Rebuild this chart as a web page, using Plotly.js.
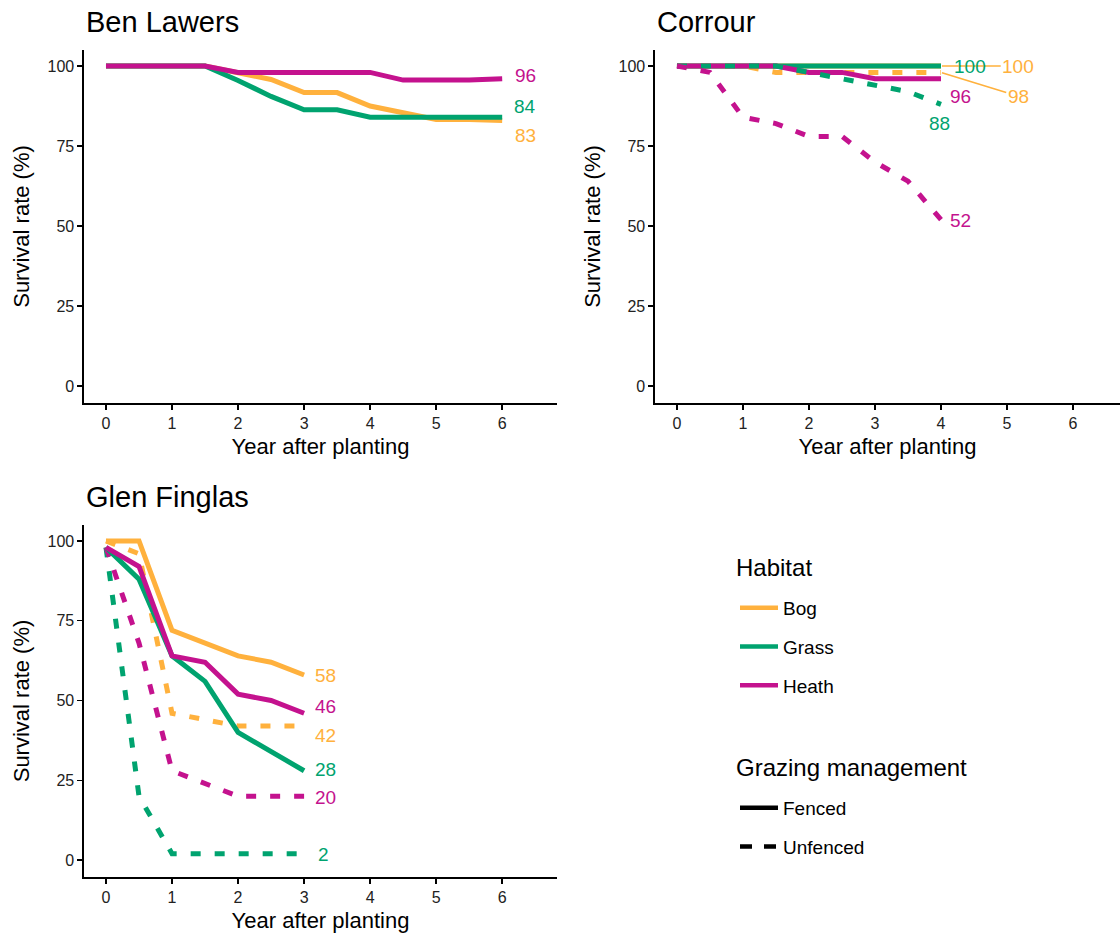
<!DOCTYPE html>
<html>
<head>
<meta charset="utf-8">
<script src="https://cdn.plot.ly/plotly-3.0.1.min.js"></script>
<style>html,body{margin:0;padding:0;background:#fff;}#chart{width:1120px;height:938px;}</style>
</head>
<body>
<div id="chart"></div>
<script>
// ---------------- DATA ----------------
const panels = ["Ben Lawers", "Corrour", "Glen Finglas"];
const habitats = ["Bog", "Grass", "Heath"];
const managements = ["Fenced", "Unfenced"];
const legendTitles = ["Habitat", "Grazing management"];
const xTicks = [0, 1, 2, 3, 4, 5, 6];
const yTicks = [0, 25, 50, 75, 100];

// Ben Lawers (fenced only)
const BL_years = [0, 0.5, 1, 1.5, 2, 2.5, 3, 3.5, 4, 4.5, 5, 5.5, 6];
const BL_bog_fenced   = [100, 100, 100, 100, 97.9, 95.8, 91.7, 91.7, 87.5, 85.4, 83.3, 83.3, 83];
const BL_grass_fenced = [100, 100, 100, 100, 95.5, 90.5, 86.3, 86.3, 84, 84, 84, 84, 84];
const BL_heath_fenced = [100, 100, 100, 100, 98, 98, 98, 98, 98, 95.6, 95.6, 95.6, 96];

// Corrour
const CO_years = [0, 0.5, 1, 1.5, 2, 2.5, 3, 3.5, 4];
const CO_bog_fenced     = [100, 100, 100, 100, 100, 100, 100, 100, 100];
const CO_bog_unfenced   = [100, 100, 100, 98, 98, 98, 98, 98, 98];
const CO_grass_fenced   = [100, 100, 100, 100, 100, 100, 100, 100, 100];
const CO_grass_unfenced = [100, 100, 100, 100, 98, 96, 94, 92, 88];
const CO_heath_fenced   = [100, 100, 100, 100, 98, 98, 96, 96, 96];
const CO_heath_unfenced = [100, 98, 84, 82, 78, 78, 70, 64, 52];

// Glen Finglas
const GF_years = [0, 0.5, 1, 1.5, 2, 2.5, 3];
const GF_bog_fenced     = [100, 100, 72, 68, 64, 62, 58];
const GF_bog_unfenced   = [100, 96, 46, 44, 42, 42, 42];
const GF_grass_fenced   = [98, 88, 64, 56, 40, 34, 28];
const GF_grass_unfenced = [98, 20, 2, 2, 2, 2, 2];
const GF_heath_fenced   = [98, 92, 64, 62, 52, 50, 46];
const GF_heath_unfenced = [98, 68, 28, 24, 20, 20, 20];

// ---------------- STYLE ----------------
const FONT = "Liberation Sans, Arial, Helvetica, sans-serif";
const colors = {Bog: "#FFB13D", Grass: "#00A36F", Heath: "#C4128E"};
const dashes = {Fenced: "solid", Unfenced: "10px,14px"};
const LW = 5;

// label offsets (data units, relative to the last point) and optional leader lines
const labelStyle = {
  "Ben Lawers": {
    Bog_Fenced:   {dx: 0.35, dy: -4.6},
    Grass_Fenced: {dx: 0.35, dy: 3.5},
    Heath_Fenced: {dx: 0.35, dy: 1}
  },
  "Corrour": {
    Bog_Fenced:     {dx: 1.17, dy: 0, leader: true},
    Grass_Fenced:   {dx: 0.44, dy: 0},
    Heath_Fenced:   {dx: 0.30, dy: -5.4},
    Bog_Unfenced:   {dx: 1.17, dy: -7.4, leader: true},
    Grass_Unfenced: {dx: -0.03, dy: -6.1},
    Heath_Unfenced: {dx: 0.30, dy: -0.4}
  },
  "Glen Finglas": {
    Bog_Fenced:     {dx: 0.33, dy: -0.2},
    Heath_Fenced:   {dx: 0.33, dy: 2},
    Bog_Unfenced:   {dx: 0.33, dy: -3},
    Grass_Fenced:   {dx: 0.33, dy: 0.4},
    Heath_Unfenced: {dx: 0.33, dy: -0.3},
    Grass_Unfenced: {dx: 0.30, dy: -0.4}
  }
};

// series per panel: [habitat, management, years, values] -- in drawing order
const panelSeries = {
  "Ben Lawers": [
    ["Bog", "Fenced", BL_years, BL_bog_fenced],
    ["Grass", "Fenced", BL_years, BL_grass_fenced],
    ["Heath", "Fenced", BL_years, BL_heath_fenced]
  ],
  "Corrour": [
    ["Bog", "Fenced", CO_years, CO_bog_fenced],
    ["Grass", "Fenced", CO_years, CO_grass_fenced],
    ["Bog", "Unfenced", CO_years, CO_bog_unfenced],
    ["Heath", "Fenced", CO_years, CO_heath_fenced],
    ["Grass", "Unfenced", CO_years, CO_grass_unfenced],
    ["Heath", "Unfenced", CO_years, CO_heath_unfenced]
  ],
  "Glen Finglas": [
    ["Grass", "Unfenced", GF_years, GF_grass_unfenced],
    ["Heath", "Unfenced", GF_years, GF_heath_unfenced],
    ["Bog", "Unfenced", GF_years, GF_bog_unfenced],
    ["Grass", "Fenced", GF_years, GF_grass_fenced],
    ["Heath", "Fenced", GF_years, GF_heath_fenced],
    ["Bog", "Fenced", GF_years, GF_bog_fenced]
  ]
};

const axisIds = {"Ben Lawers": ["x", "y"], "Corrour": ["x2", "y2"], "Glen Finglas": ["x3", "y3"]};

const traces = [];
const annotations = [];

panels.forEach(p => {
  const [xa, ya] = axisIds[p];
  panelSeries[p].forEach(([hab, man, xs, ys]) => {
    traces.push({
      type: "scatter", mode: "lines", x: xs, y: ys,
      xaxis: xa, yaxis: ya, showlegend: false, hoverinfo: "skip",
      line: {color: colors[hab], width: LW, dash: dashes[man]}
    });
    const st = labelStyle[p][hab + "_" + man];
    const lx = xs[xs.length - 1], ly = ys[ys.length - 1];
    const ann = {
      xref: xa, yref: ya, text: String(Math.round(ly)),
      font: {family: FONT, size: 19, color: colors[hab]},
      xanchor: "center", yanchor: "middle"
    };
    if (st.leader) {
      Object.assign(ann, {
        x: lx, y: ly, ax: lx + st.dx, ay: ly + st.dy, axref: xa, ayref: ya,
        showarrow: true, arrowhead: 0, arrowwidth: 1.6, arrowcolor: colors[hab], standoff: 1
      });
    } else {
      Object.assign(ann, {x: lx + st.dx, y: ly + st.dy, showarrow: false});
    }
    annotations.push(ann);
  });
});

// panel titles
const titlePos = {"Ben Lawers": [84 / 1120, 1 - 22 / 938], "Corrour": [655 / 1120, 1 - 22 / 938], "Glen Finglas": [84 / 1120, 1 - 497 / 938]};
panels.forEach(p => {
  annotations.push({
    xref: "paper", yref: "paper", x: titlePos[p][0], y: titlePos[p][1],
    xanchor: "left", yanchor: "middle", showarrow: false, text: p,
    font: {family: FONT, size: 29, color: "#000"}
  });
});

// legend titles
const legendTitleY = [1 - 567 / 938, 1 - 767 / 938];
legendTitles.forEach((t, i) => {
  annotations.push({
    xref: "paper", yref: "paper", x: 734 / 1120, y: legendTitleY[i],
    xanchor: "left", yanchor: "middle", showarrow: false, text: t,
    font: {family: FONT, size: 24, color: "#000"}
  });
});

// legend dummy traces
habitats.forEach(h => traces.push({
  type: "scatter", mode: "lines", x: [null], y: [null], name: h,
  legend: "legend", legendgroup: h, line: {color: colors[h], width: 4.5}
}));
managements.forEach(m => traces.push({
  type: "scatter", mode: "lines", x: [null], y: [null], name: m,
  legend: "legend2", legendgroup: m, line: {color: "#000", width: 4.5, dash: m === "Fenced" ? "solid" : "12px,12px"}
}));

function xAxis(domain, range, anchor) {
  return {
    domain: domain, range: range, anchor: anchor, tickvals: xTicks, ticktext: xTicks.map(String),
    showline: true, linecolor: "#000", linewidth: 1.6, mirror: false,
    ticks: "outside", ticklen: 5, tickwidth: 1.4, tickcolor: "#000",
    tickfont: {family: FONT, size: 16, color: "#222"},
    showgrid: false, zeroline: false, fixedrange: true,
    title: {text: "Year after planting", font: {family: FONT, size: 22, color: "#000"}, standoff: 8}
  };
}
function yAxis(domain, anchor) {
  return {
    domain: domain, range: [-5.3, 105], anchor: anchor, tickvals: yTicks, ticktext: yTicks.map(String),
    showline: true, linecolor: "#000", linewidth: 1.6,
    ticks: "outside", ticklen: 5, tickwidth: 1.4, tickcolor: "#000",
    tickfont: {family: FONT, size: 16, color: "#222"},
    showgrid: false, zeroline: false, fixedrange: true,
    title: {text: "Survival rate (%)", font: {family: FONT, size: 22, color: "#000"}, standoff: 12}
  };
}

const topDom = [1 - 403 / 938, 1 - 50 / 938];
const botDom = [1 - 877 / 938, 1 - 525 / 938];
const leftDom = [84 / 1120, 557 / 1120];
const rightDom = [655 / 1120, 1];

const layout = {
  width: 1120, height: 938,
  margin: {l: 0, r: 0, t: 0, b: 0},
  paper_bgcolor: "#fff", plot_bgcolor: "#fff",
  font: {family: FONT},
  xaxis: xAxis(leftDom, [-0.333, 6.83], "y"),
  yaxis: yAxis(topDom, "x"),
  xaxis2: xAxis(rightDom, [-0.333, 6.712], "y2"),
  yaxis2: yAxis(topDom, "x2"),
  xaxis3: xAxis(leftDom, [-0.333, 6.83], "y3"),
  yaxis3: yAxis(botDom, "x3"),
  legend: {
    x: 735 / 1120, y: 1 - 589 / 938, xanchor: "left", yanchor: "top",
    bgcolor: "rgba(0,0,0,0)", tracegroupgap: 11, itemwidth: 38,
    font: {family: FONT, size: 19, color: "#000"}
  },
  legend2: {
    x: 735 / 1120, y: 1 - 789 / 938, xanchor: "left", yanchor: "top",
    bgcolor: "rgba(0,0,0,0)", tracegroupgap: 11, itemwidth: 38,
    font: {family: FONT, size: 19, color: "#000"}
  },
  annotations: annotations,
  showlegend: true
};

Plotly.newPlot("chart", traces, layout, {displayModeBar: false, staticPlot: true});
</script>
</body>
</html>
